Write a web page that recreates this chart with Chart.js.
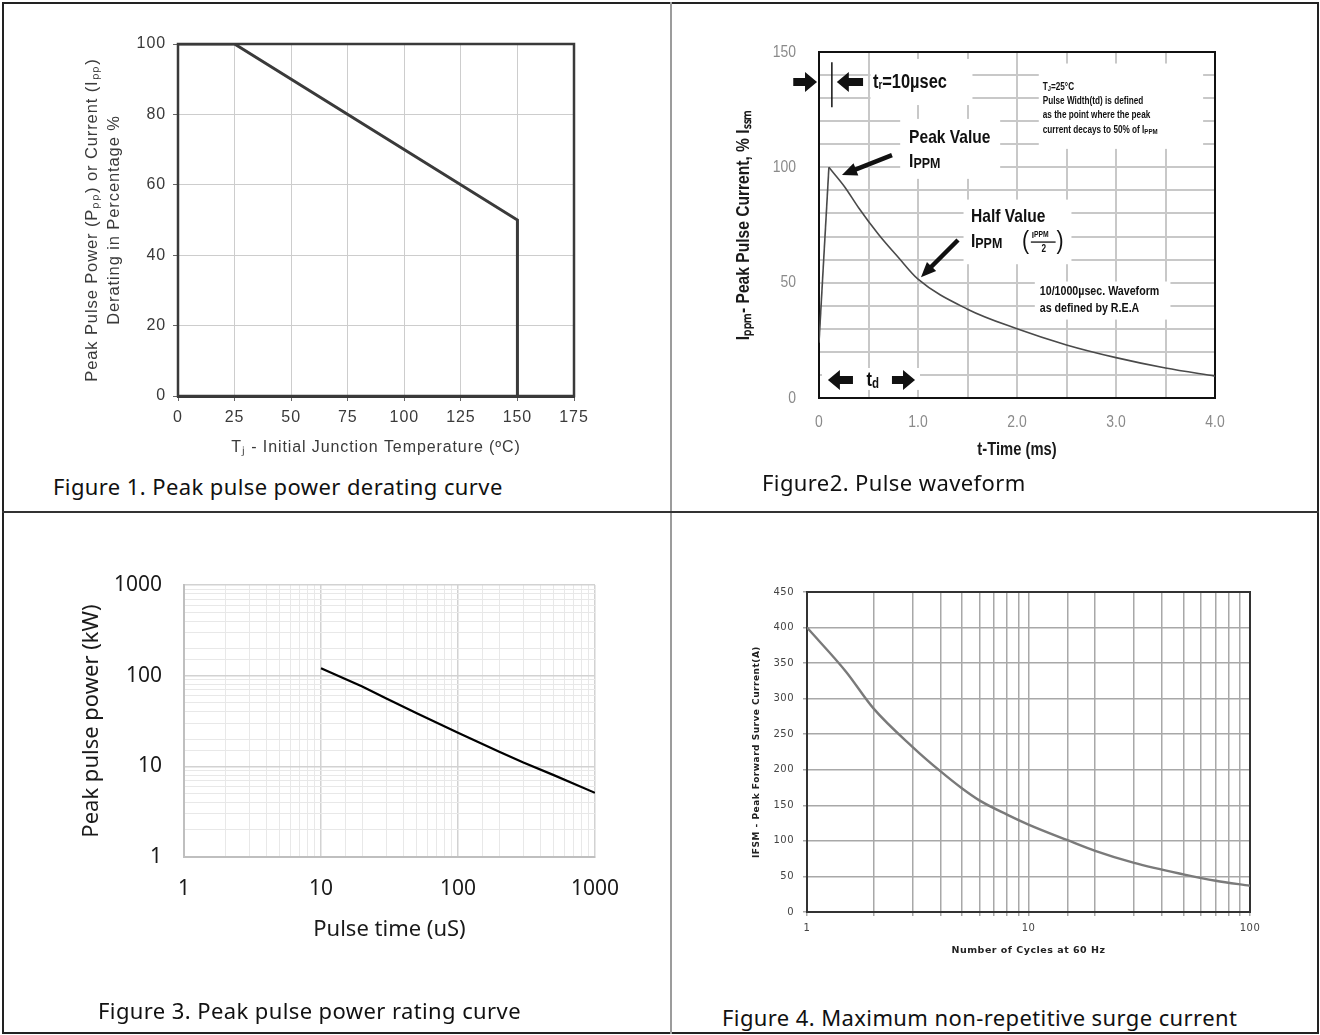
<!DOCTYPE html>
<html>
<head>
<meta charset="utf-8">
<title>TVS diode characteristic curves</title>
<script src="https://cdn.jsdelivr.net/npm/chart.js@4.4.1/dist/chart.umd.min.js"></script>
<style>
  html, body { margin: 0; padding: 0; background: #fff; }
  body { width: 1320px; height: 1035px; position: relative; overflow: hidden; }
  .outer { position: absolute; left: 2px; top: 2px; width: 1317px; height: 1032px; border: 2px solid #222; box-sizing: border-box; }
  .vdiv { position: absolute; left: 670px; top: 2px; width: 2px; height: 1032px; background: #9c9c9c; }
  .hdiv { position: absolute; left: 2px; top: 511px; width: 1317px; height: 2px; background: #333; }
  .cell { position: absolute; }
  .cap { position: absolute; font-family: "Noto Sans", "Open Sans", sans-serif; font-size: 22px; line-height: 30px;
         letter-spacing: 0.4px; color: #111; white-space: nowrap; }
</style>
</head>
<body>
<div class="outer"></div>
<div class="vdiv"></div>
<div class="hdiv"></div>

<div class="cell" style="left:0;top:0"><canvas id="fig1" width="670" height="470"></canvas></div>
<div class="cell" style="left:670px;top:0"><canvas id="fig2" width="650" height="470"></canvas></div>
<div class="cell" style="left:0;top:512px"><canvas id="fig3" width="670" height="488"></canvas></div>
<div class="cell" style="left:670px;top:512px"><canvas id="fig4" width="650" height="488"></canvas></div>

<div class="cap" style="left:53px;top:471px">Figure 1. Peak pulse power derating curve</div>
<div class="cap" style="left:762px;top:467px">Figure2. Pulse waveform</div>
<div class="cap" style="left:98px;top:995px">Figure 3. Peak pulse power rating curve</div>
<div class="cap" style="left:722px;top:1002px">Figure 4. Maximum non-repetitive surge current</div>

<script>
// ---- Figure 1: derating curve ----
const derateTemp = [0, 25, 150, 150];
const deratePct = [100, 100, 50, 0];
const derateTempTicks = ['0', '25', '50', '75', '100', '125', '150', '175'];
const deratePctTicks = ['0', '20', '40', '60', '80', '100'];

// ---- Figure 2: 10/1000us pulse waveform ----
const riseTime = [0, 0.1];
const riseCurrent = [24, 100];
const decayTime = [0.1, 0.26, 0.4, 0.6, 0.8, 1.0, 1.5, 2.0, 2.5, 3.0, 3.5, 4.0];
const decayCurrent = [100, 91.5, 82.5, 71, 61, 51.5, 38.5, 30, 23, 17.5, 13, 9.5];
const waveTimeTicks = ['0', '1.0', '2.0', '3.0', '4.0'];
const waveCurrentTicks = ['0', '50', '100', '150'];

// ---- Figure 3: peak pulse power vs pulse time ----
const pulseTime = [10, 20, 30, 50, 100, 200, 300, 500, 1000];
const pulsePower = [121, 76, 56, 38.5, 23.5, 14.5, 11, 8, 5.1];
const pulseTimeTicks = ['1', '10', '100', '1000'];
const pulsePowerTicks = ['1', '10', '100', '1000'];

// ---- Figure 4: surge current vs cycles ----
const surgeCycles = [1, 1.5, 2, 3, 4, 5, 6, 8, 10, 15, 20, 30, 50, 70, 100];
const surgeCurrent = [400, 338, 286, 232, 198, 174, 157, 137, 123, 101, 86, 69, 53, 44, 37];
const surgeCycleTicks = ['1', '10', '100'];
const surgeCurrentTicks = ['0', '50', '100', '150', '200', '250', '300', '350', '400', '450'];

const SANS = '"Liberation Sans", Arial, sans-serif';
const NARROW = '"Liberation Sans Narrow", "Liberation Sans", Arial, sans-serif';
const NARROW_K = 0.82;   // horizontal squeeze standing in for a condensed face
const NOTO = '"Noto Sans", "Open Sans", sans-serif';
const DEJA = '"DejaVu Sans", Verdana, sans-serif';

function pts(xs, ys) {
  return xs.map((x, i) => ({ x: x, y: ys[i] }));
}
function isDecade(v) {
  const l = Math.log10(v);
  return Math.abs(l - Math.round(l)) < 1e-9;
}

// box round the plot area
const framePlugin = {
  id: 'frame',
  beforeDatasetsDraw(chart, args, opts) {
    if (!opts || !opts.color) return;
    const a = chart.chartArea;
    const ctx = chart.ctx;
    ctx.save();
    ctx.strokeStyle = opts.color;
    ctx.lineWidth = opts.width || 1;
    ctx.strokeRect(a.left, a.top, a.right - a.left, a.bottom - a.top);
    ctx.restore();
  }
};

// letter spacing for every text of one chart
const spacingPlugin = {
  id: 'spacing',
  beforeDraw(chart, args, opts) { chart.ctx.letterSpacing = (opts.px || 0) + 'px'; },
  afterDraw(chart) { chart.ctx.letterSpacing = '0px'; }
};

// squeeze text horizontally (condensed look)
const condensePlugin = {
  id: 'condense',
  beforeDraw(chart) {
    const plain = CanvasRenderingContext2D.prototype.fillText;
    chart.ctx.fillText = function(text, x, y) {
      this.save();
      this.translate(x, y);
      this.scale(NARROW_K, 1);
      plain.call(this, text, 0, 0);
      this.restore();
    };
  },
  afterDraw(chart) { delete chart.ctx.fillText; }
};

function arrow(ctx, x1, y1, x2, y2, shaft, headLen, headW) {
  const ang = Math.atan2(y2 - y1, x2 - x1);
  const len = Math.hypot(x2 - x1, y2 - y1);
  ctx.save();
  ctx.translate(x2, y2);
  ctx.rotate(ang);
  ctx.beginPath();
  ctx.moveTo(0, 0);
  ctx.lineTo(-headLen, -headW / 2);
  ctx.lineTo(-headLen, -shaft / 2);
  ctx.lineTo(-len, -shaft / 2);
  ctx.lineTo(-len, shaft / 2);
  ctx.lineTo(-headLen, shaft / 2);
  ctx.lineTo(-headLen, headW / 2);
  ctx.closePath();
  ctx.fill();
  ctx.restore();
}

// text with subscripts: parts are [text, sizeFactor, dy]
function richText(ctx, parts, x, y, base) {
  let cx = x;
  parts.forEach(function(p) {
    ctx.font = 'bold ' + (base * (p[1] || 1)) + 'px ' + NARROW;
    ctx.fillText(p[0], cx, y + (p[2] || 0));
    cx += ctx.measureText(p[0]).width * NARROW_K;
  });
  return cx;
}

// notes, arrows and white knock-outs on the pulse waveform
const waveNotes = {
  id: 'waveNotes',
  beforeDatasetsDraw(chart) {
    const ctx = chart.ctx, sx = chart.scales.x, sy = chart.scales.y;
    const boxes = [
      [0.52, 1.55, 127, 147],
      [2.22, 3.88, 108, 145],
      [0.82, 1.83, 95, 121],
      [1.46, 2.55, 58, 86],
      [2.18, 3.55, 34, 50.5],
      [0.03, 1.02, 3.5, 13]
    ];
    ctx.save();
    ctx.fillStyle = '#fff';
    boxes.forEach(function(b) {
      const x1 = sx.getPixelForValue(b[0]), x2 = sx.getPixelForValue(b[1]);
      const y1 = sy.getPixelForValue(b[3]), y2 = sy.getPixelForValue(b[2]);
      ctx.fillRect(x1, y1, x2 - x1, y2 - y1);
    });
    ctx.restore();
  },
  afterDatasetsDraw(chart) {
    const ctx = chart.ctx, sx = chart.scales.x, sy = chart.scales.y;
    const X = v => sx.getPixelForValue(v), Y = v => sy.getPixelForValue(v);
    ctx.save();
    ctx.fillStyle = '#111';
    ctx.strokeStyle = '#111';
    ctx.textBaseline = 'middle';
    ctx.textAlign = 'left';

    // rise time marker
    ctx.lineWidth = 1.5;
    ctx.beginPath();
    ctx.moveTo(X(0.13), Y(145.6));
    ctx.lineTo(X(0.13), Y(126));
    ctx.stroke();
    arrow(ctx, X(-0.26), Y(137), X(-0.02), Y(137), 8, 12, 20);
    arrow(ctx, X(0.445), Y(137), X(0.18), Y(137), 8, 12, 20);
    richText(ctx, [['t'], ['r', 0.6, 4], ['=10\u00b5sec']], X(0.545), Y(137), 20);

    // definition block
    richText(ctx, [['T'], ['J', 0.7, 2], ['=25\u00b0C']], X(2.26), Y(134.8), 10);
    richText(ctx, [['Pulse Width(td) is defined']], X(2.26), Y(128.7), 10);
    richText(ctx, [['as the point where the peak']], X(2.26), Y(122.7), 10);
    richText(ctx, [['current decays to 50% of I'], ['PPM', 0.75, 2]], X(2.26), Y(116.2), 10);

    // peak value
    richText(ctx, [['Peak Value']], X(0.91), Y(113), 19);
    richText(ctx, [['I'], ['PPM', 0.8, 2]], X(0.91), Y(102.3), 19);
    arrow(ctx, X(0.737), Y(105.3), X(0.232), Y(96.7), 4.5, 15, 13);

    // half value
    richText(ctx, [['Half Value']], X(1.535), Y(78.5), 19);
    richText(ctx, [['I'], ['PPM', 0.8, 2]], X(1.535), Y(67.6), 19);
    ctx.font = '26px ' + NARROW;
    ctx.fillText('(', X(2.05), Y(67.6));
    ctx.fillText(')', X(2.40), Y(67.6));
    richText(ctx, [['I', 0.9], ['PPM', 0.75]], X(2.15), Y(70.6), 11);
    ctx.lineWidth = 1.3;
    ctx.beginPath();
    ctx.moveTo(X(2.14), Y(67.6));
    ctx.lineTo(X(2.39), Y(67.6));
    ctx.stroke();
    ctx.textAlign = 'center';
    ctx.font = 'bold 10px ' + NARROW;
    ctx.fillText('2', X(2.27), Y(64.4));
    ctx.textAlign = 'left';
    arrow(ctx, X(1.404), Y(68.5), X(1.03), Y(52.4), 4.5, 15, 13);

    // waveform note
    richText(ctx, [['10/1000\u00b5sec. Waveform']], X(2.23), Y(46), 13);
    richText(ctx, [['as defined by R.E.A']], X(2.23), Y(39), 13);

    // decay time arrows
    arrow(ctx, X(0.343), Y(7.8), X(0.09), Y(7.8), 8, 12, 20);
    arrow(ctx, X(0.737), Y(7.8), X(0.97), Y(7.8), 8, 12, 20);
    richText(ctx, [['t'], ['d', 0.7, 4]], X(0.48), Y(7.8), 20);
    ctx.restore();
  }
};

Chart.defaults.animation = false;
Chart.defaults.responsive = false;
Chart.defaults.plugins.legend.display = false;
Chart.defaults.plugins.tooltip.enabled = false;

// ---------- Figure 1 ----------
new Chart(document.getElementById('fig1'), {
  type: 'scatter',
  data: {
    datasets: [{
      data: pts(derateTemp, deratePct),
      showLine: true,
      borderColor: '#3a3a3a',
      borderWidth: 3,
      pointRadius: 0,
      tension: 0
    }]
  },
  options: {
    layout: { padding: { left: 0, top: 44, right: 96, bottom: 4 } },
    plugins: { frame: { color: '#3a3a3a', width: 2.5 }, spacing: { px: 0.9 } },
    scales: {
      x: {
        type: 'linear', min: 0, max: 175,
        afterFit: function(s) { s.height = 70; },
        ticks: {
          stepSize: 25, padding: 7, color: '#3a3a3a',
          font: { family: SANS, size: 16 },
          callback: (v, i) => derateTempTicks[i]
        },
        grid: { color: '#cdcdcd', lineWidth: 1, tickLength: 5, tickColor: '#666' },
        border: { display: true, color: '#3a3a3a', width: 3 },
        title: {
          display: true, text: 'T\u2c7c - Initial Junction Temperature (\u00baC)', color: '#3a3a3a',
          font: { family: SANS, size: 16 }, padding: { top: 0, bottom: 9 }
        }
      },
      y: {
        min: 0, max: 100,
        afterFit: function(s) { s.width = 178; },
        ticks: {
          stepSize: 20, padding: 7, color: '#3a3a3a',
          font: { family: SANS, size: 16 },
          callback: (v, i) => deratePctTicks[i]
        },
        grid: { color: '#cdcdcd', lineWidth: 1, tickLength: 5, tickColor: '#666' },
        border: { display: false },
        title: {
          display: true,
          text: ['Peak Pulse Power (P\u209a\u209a) or Current (I\u209a\u209a)', 'Derating in Percentage %'],
          color: '#3a3a3a',
          font: { family: SANS, size: 16.5, lineHeight: 1.35 },
          padding: { top: 81, bottom: 0 }
        }
      }
    }
  },
  plugins: [spacingPlugin, framePlugin]
});

// ---------- Figure 2 ----------
new Chart(document.getElementById('fig2'), {
  type: 'scatter',
  data: {
    datasets: [{
      data: pts(riseTime, riseCurrent),
      showLine: true, borderColor: '#4a4a4a', borderWidth: 1.6, pointRadius: 0, tension: 0
    }, {
      data: pts(decayTime, decayCurrent),
      showLine: true, borderColor: '#4a4a4a', borderWidth: 1.6, pointRadius: 0,
      cubicInterpolationMode: 'monotone'
    }]
  },
  options: {
    layout: { padding: { left: 0, top: 52, right: 105, bottom: 7 } },
    plugins: { frame: { color: '#111', width: 2 } },
    scales: {
      x: {
        type: 'linear', min: 0, max: 4,
        afterFit: function(s) { s.height = 65; },
        ticks: {
          stepSize: 0.5, padding: 14, color: '#8a8a8a', autoSkip: false, maxRotation: 0,
          font: { family: NARROW, size: 17 },
          callback: v => Number.isInteger(v) ? waveTimeTicks[v] : ''
        },
        grid: { color: '#c8c8c8', lineWidth: 2, drawTicks: false },
        border: { display: false },
        title: {
          display: true, text: 't-Time (ms)', color: '#1a1a1a',
          font: { family: NARROW, size: 18, weight: 'bold' }, padding: { top: 0, bottom: 2 }
        }
      },
      y: {
        min: 0, max: 150,
        afterFit: function(s) { s.width = 149; },
        ticks: {
          stepSize: 10, padding: 23, color: '#8a8a8a', autoSkip: false,
          font: { family: NARROW, size: 17 },
          callback: v => v % 50 === 0 ? waveCurrentTicks[v / 50] : ''
        },
        grid: { color: '#c8c8c8', lineWidth: 2, drawTicks: false },
        border: { display: false },
        title: {
          display: true, text: 'I\u209a\u209a\u2098- Peak Pulse Current, % I\u209b\u209b\u2098', color: '#1a1a1a',
          font: { family: NARROW, size: 19, weight: 'bold' }, padding: { top: 62, bottom: 0 }
        }
      }
    }
  },
  plugins: [condensePlugin, waveNotes, framePlugin]
});

// ---------- Figure 3 ----------
new Chart(document.getElementById('fig3'), {
  type: 'scatter',
  data: {
    datasets: [{
      data: pts(pulseTime, pulsePower),
      showLine: true, borderColor: '#000', borderWidth: 2.2, pointRadius: 0, tension: 0
    }]
  },
  options: {
    layout: { padding: { left: 0, top: 73, right: 75, bottom: 48 } },
    scales: {
      x: {
        type: 'logarithmic', min: 1, max: 1000,
        afterFit: function(s) { s.height = 95; },
        ticks: {
          autoSkip: false, maxRotation: 0, padding: 19, color: '#1a1a1a',
          font: { family: NOTO, size: 21 },
          callback: v => isDecade(v) ? pulseTimeTicks[Math.round(Math.log10(v))] : ''
        },
        grid: {
          drawTicks: false,
          color: c => isDecade(c.tick.value) ? '#d2d2d2' : '#e8e8e8',
          lineWidth: c => isDecade(c.tick.value) ? 1.5 : 1
        },
        border: { display: true, color: '#bfbfbf', width: 2 },
        title: {
          display: true, text: 'Pulse time (uS)', color: '#1a1a1a',
          font: { family: NOTO, size: 22 }, padding: { top: 0, bottom: 9 }
        }
      },
      y: {
        type: 'logarithmic', min: 1, max: 1000,
        afterFit: function(s) { s.width = 184; },
        ticks: {
          autoSkip: false, padding: 22, color: '#1a1a1a',
          font: { family: NOTO, size: 21 },
          callback: v => isDecade(v) ? pulsePowerTicks[Math.round(Math.log10(v))] : ''
        },
        grid: {
          drawTicks: false,
          color: c => isDecade(c.tick.value) ? '#d2d2d2' : '#e8e8e8',
          lineWidth: c => isDecade(c.tick.value) ? 1.5 : 1
        },
        border: { display: true, color: '#bfbfbf', width: 2 },
        title: {
          display: true, text: 'Peak pulse power (kW)', color: '#1a1a1a',
          font: { family: NOTO, size: 22 }, padding: { top: 79, bottom: 0 }
        }
      }
    }
  }
});

// ---------- Figure 4 ----------
new Chart(document.getElementById('fig4'), {
  type: 'scatter',
  data: {
    datasets: [{
      data: pts(surgeCycles, surgeCurrent),
      showLine: true, borderColor: '#7a7a7a', borderWidth: 2.4, pointRadius: 0,
      cubicInterpolationMode: 'monotone'
    }]
  },
  options: {
    layout: { padding: { left: 0, top: 80, right: 70, bottom: 33 } },
    plugins: { frame: { color: '#333', width: 2 }, spacing: { px: 0.5 } },
    scales: {
      x: {
        type: 'logarithmic', min: 1, max: 100,
        afterFit: function(s) { s.height = 55; },
        ticks: {
          autoSkip: false, maxRotation: 0, padding: 6, color: '#444',
          font: { family: DEJA, size: 10 },
          callback: v => isDecade(v) ? surgeCycleTicks[Math.round(Math.log10(v))] : ''
        },
        grid: { color: '#a8a8a8', lineWidth: 1.5, tickLength: 4 },
        border: { display: false },
        title: {
          display: true, text: 'Number of Cycles at 60 Hz', color: '#222',
          font: { family: DEJA, size: 9.5, weight: 'bold' }, padding: { top: 0, bottom: 11 }
        }
      },
      y: {
        min: 0, max: 450,
        afterFit: function(s) { s.width = 137; },
        ticks: {
          stepSize: 50, padding: 9, color: '#444', autoSkip: false,
          font: { family: DEJA, size: 10 },
          callback: (v, i) => surgeCurrentTicks[i]
        },
        grid: { color: '#a8a8a8', lineWidth: 1.5, tickLength: 4 },
        border: { display: false },
        title: {
          display: true, text: 'IFSM - Peak Forward Surve Current(A)', color: '#222',
          font: { family: DEJA, size: 9, weight: 'bold' }, padding: { top: 81, bottom: 0 }
        }
      }
    }
  },
  plugins: [spacingPlugin, framePlugin]
});
</script>
</body>
</html>
